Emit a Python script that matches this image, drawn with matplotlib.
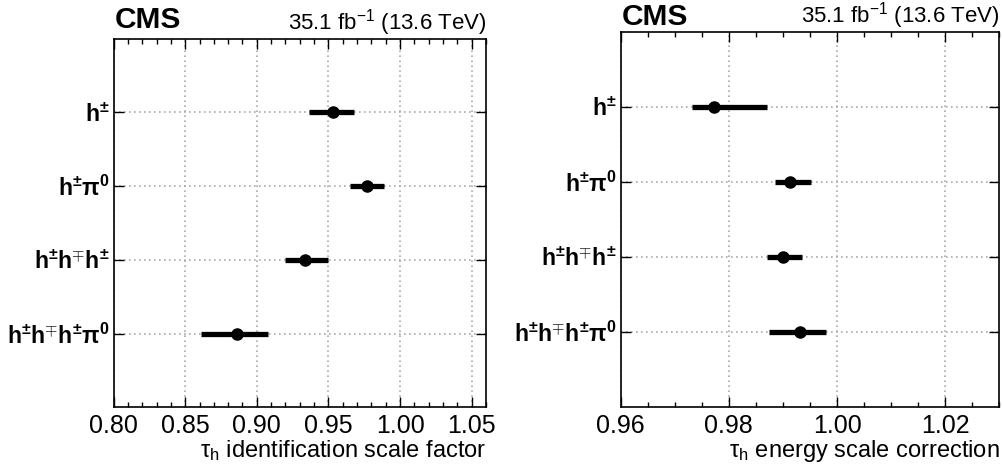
import numpy as np
import matplotlib
matplotlib.use("Agg")
import matplotlib.pyplot as plt
from matplotlib.ticker import MultipleLocator, FormatStrFormatter

plt.rcParams['font.family'] = ['Liberation Sans', 'DejaVu Sans']
plt.rcParams['mathtext.fontset'] = 'custom'
plt.rcParams['mathtext.rm'] = 'Liberation Sans'
plt.rcParams['mathtext.it'] = 'Liberation Sans:italic'
plt.rcParams['mathtext.bf'] = 'Liberation Sans:bold'
plt.rcParams['mathtext.default'] = 'bf'

# decay modes (top to bottom)
modes = [r"h$^{\pm}$", r"h$^{\pm}\pi^{0}$", r"h$^{\pm}$h$^{\mp}$h$^{\pm}$",
         r"h$^{\pm}$h$^{\mp}$h$^{\pm}\pi^{0}$"]

# identification scale factors
id_sf = [0.953, 0.977, 0.9337, 0.886]
id_lo = [0.0163, 0.012, 0.0137, 0.0247]
id_hi = [0.0149, 0.012, 0.0163, 0.0216]

# energy scale corrections
es_corr = [0.9773, 0.9913, 0.9900, 0.9931]
es_lo = [0.0041, 0.0027, 0.0030, 0.0057]
es_hi = [0.0097, 0.0038, 0.0035, 0.0049]

fig = plt.figure(figsize=(10.03, 4.65), dpi=100)
ax1 = fig.add_axes([0.1132, 0.1237, 0.3714, 0.7935])
ax2 = fig.add_axes([0.6188, 0.1254, 0.3775, 0.8065])

ypos = np.arange(len(modes), 0, -1)


def draw(ax, vals, lo, hi, xlim, major, minor, xlabel, cms_y, lumi_y):
    ax.errorbar(vals, ypos, xerr=[lo, hi], fmt='o', color='black', ms=8,
                elinewidth=3.8, capsize=0, zorder=3)
    ax.set_xlim(*xlim)
    ax.set_ylim(0, 5)
    ax.xaxis.set_major_locator(MultipleLocator(major))
    ax.xaxis.set_minor_locator(MultipleLocator(minor))
    ax.xaxis.set_major_formatter(FormatStrFormatter('%.2f'))
    ax.set_yticks(ypos)
    ax.set_yticklabels(modes, fontsize=16.5, fontweight='bold')
    ax.tick_params(axis='x', which='major', direction='in', top=True,
                   length=7, width=1, labelsize=18, pad=5)
    ax.tick_params(axis='x', which='minor', direction='in', top=True,
                   length=3.5, width=1)
    ax.tick_params(axis='y', which='major', direction='in', right=True,
                   length=7, width=1, pad=3)
    ax.grid(True, which='major', color='#aaaaaa', linestyle=(0, (1, 2)),
            linewidth=1.2)
    for s in ax.spines.values():
        s.set_linewidth(1.2)
    ax.set_xlabel(xlabel, fontsize=17, loc='right', labelpad=0)
    ax.text(0.003, cms_y, 'CMS', transform=ax.transAxes, fontsize=21.5,
            fontweight='bold', ha='left', va='baseline')
    ax.text(1.0, lumi_y, r"35.1 fb$^{\mathrm{-1}}$ (13.6 TeV)",
            transform=ax.transAxes, fontsize=16, ha='right', va='baseline')


draw(ax1, id_sf, id_lo, id_hi, (0.80, 1.06), 0.05, 0.01,
     r"τ$_{\mathrm{h}}$ identification scale factor", 1.028, 1.025)
draw(ax2, es_corr, es_lo, es_hi, (0.96, 1.03), 0.02, 0.005,
     r"τ$_{\mathrm{h}}$ energy scale correction", 1.019, 1.024)

fig.savefig('out.png', dpi=100)
